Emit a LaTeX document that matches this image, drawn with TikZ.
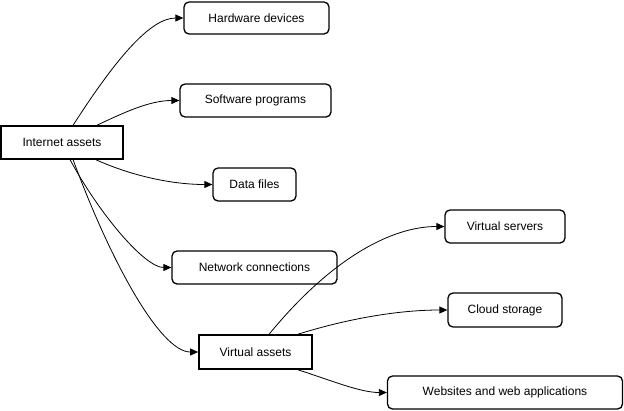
\documentclass[tikz,border=0pt]{standalone}
\usepackage{fontspec}
\setmainfont{Liberation Sans}
\usetikzlibrary{arrows.meta,calc}
\begin{document}
\begin{tikzpicture}[x=1pt,y=-1pt,
  box/.style={draw=black,line width=1.3pt,rounded corners=5pt,inner sep=0pt,font=\fontsize{12}{14}\selectfont,fill=white},
  sqbox/.style={box,rounded corners=0pt,line width=1.7pt},
  edge/.style={draw=black,line width=0.8pt,-{Triangle[length=8pt,width=7pt]}}]
\useasboundingbox (0,0) rectangle (624,410);
\fill[white] (0,0) rectangle (624,410);
\node[sqbox,minimum width=122pt,minimum height=33pt] (ia) at (62,142.5) {Internet assets};
\node[box,minimum width=145pt,minimum height=32pt] (hw) at (256.5,18) {Hardware devices};
\node[box,minimum width=151pt,minimum height=33pt] (sw) at (255.5,100.5) {Software programs};
\node[box,minimum width=83pt,minimum height=33pt] (df) at (254.5,184.5) {Data files};
\node[box,minimum width=165pt,minimum height=33pt] (nc) at (254.5,267.5) {Network connections};
\node[sqbox,minimum width=113pt,minimum height=34pt] (va) at (255.5,352) {Virtual assets};
\node[box,minimum width=120pt,minimum height=33pt] (vs) at (505,226.5) {Virtual servers};
\node[box,minimum width=114pt,minimum height=34pt] (cs) at (505,310) {Cloud storage};
\node[box,minimum width=235pt,minimum height=33pt] (web) at (505,392.5) {Websites and web applications};

\draw[edge] ($(ia.north west)+(73,0)$) .. controls (115,60) and (150,18) .. (hw.west);
\draw[edge] ($(ia.north west)+(97,0)$) .. controls (125,112) and (150,100.5) .. (sw.west);
\draw[edge] ($(ia.south west)+(96,0)$) .. controls (130,175) and (170,184.5) .. (df.west);
\draw[edge] ($(ia.south west)+(70,0)$) .. controls (100,215) and (145,267.5) .. (nc.west);
\draw[edge] ($(ia.south west)+(73,0)$) .. controls (110,260) and (160,352) .. (va.west);
\draw[edge] ($(va.north west)+(71,0)$) .. controls (330,260) and (390,226.5) .. (vs.west);
\draw[edge] ($(va.north west)+(100,0)$) .. controls (350,318) and (400,310) .. (cs.west);
\draw[edge] ($(va.south west)+(100,0)$) .. controls (330,380) and (360,392.5) .. (web.west);
\end{tikzpicture}
\end{document}
